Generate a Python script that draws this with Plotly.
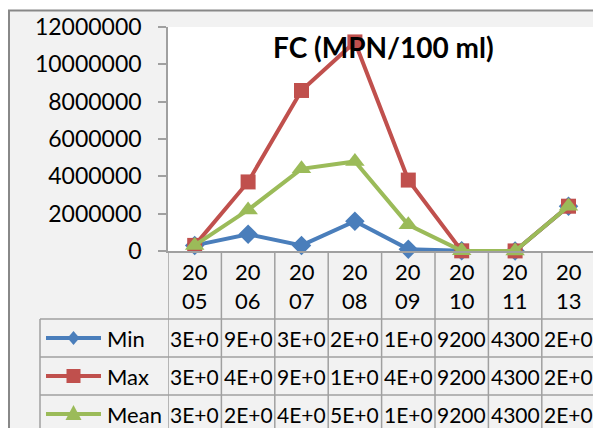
import plotly.graph_objects as go

# ---------------- data ----------------
years = ["2005", "2006", "2007", "2008", "2009", "2010", "2011", "2013"]
min_vals = [300000, 900000, 300000, 1600000, 100000, 9200, 4300, 2400000]
max_vals = [300000, 3700000, 8600000, 11200000, 3800000, 9200, 4300, 2400000]
mean_vals = [300000, 2200000, 4400000, 4800000, 1400000, 9200, 4300, 2400000]
series_names = ["Min", "Max", "Mean"]
title_text = "FC (MPN/100 ml)"
y_ticks = [0, 2000000, 4000000, 6000000, 8000000, 10000000, 12000000]

# ---------------- styling ----------------
W, H = 593, 428
FONT = "Lato"
COLORS = {"Min": "#4A7EBB", "Max": "#C0504D", "Mean": "#9BBB59"}
SYMBOLS = {"Min": "diamond", "Max": "square", "Mean": "triangle-up"}
MSIZE = {"Min": 15, "Max": 15, "Mean": 17}
GRID = "#A0A0A0"
BORDER = "#888888"

PLOT_L, PLOT_T, PLOT_B = 168, 27, 251
COL_W = 53.4


def px(x):
    return x / W


def py(y):
    return 1 - y / H


n = len(years)
xs = list(range(n))
x_hi = -0.5 + (W - PLOT_L) / COL_W

fig = go.Figure()
for name, vals in zip(series_names, [min_vals, max_vals, mean_vals]):
    fig.add_trace(go.Scatter(
        x=xs, y=vals, mode="lines+markers", name=name,
        line=dict(color=COLORS[name], width=4),
        marker=dict(symbol=SYMBOLS[name], size=MSIZE[name], color=COLORS[name],
                    line=dict(width=0)),
        cliponaxis=False,
    ))

shapes = []
annotations = []

# outer chart border + white surroundings
shapes.append(dict(type="rect", xref="paper", yref="paper", x0=0, x1=1, y0=py(10), y1=1,
                   fillcolor="white", line=dict(width=0), layer="above"))
shapes.append(dict(type="rect", xref="paper", yref="paper", x0=0, x1=px(8), y0=0, y1=1,
                   fillcolor="white", line=dict(width=0), layer="above"))
shapes.append(dict(type="line", xref="paper", yref="paper", x0=px(8), x1=1, y0=py(10.5), y1=py(10.5),
                   line=dict(color=BORDER, width=2), layer="above"))
shapes.append(dict(type="line", xref="paper", yref="paper", x0=px(9), x1=px(9), y0=py(10), y1=0,
                   line=dict(color=BORDER, width=2), layer="above"))

# table vertical lines at category boundaries
for i in range(n + 1):
    shapes.append(dict(type="line", xref="x", yref="paper", x0=i - 0.5, x1=i - 0.5,
                       y0=py(PLOT_B), y1=0, line=dict(color=GRID, width=1.5), layer="above"))
# table left border
shapes.append(dict(type="line", xref="paper", yref="paper", x0=px(40), x1=px(40),
                   y0=py(319), y1=0, line=dict(color=GRID, width=1.5), layer="above"))
# horizontal row lines
row_tops = [319, 357, 395]
for r in row_tops:
    shapes.append(dict(type="line", xref="paper", yref="paper", x0=px(40), x1=1,
                       y0=py(r), y1=py(r), line=dict(color=GRID, width=1.5), layer="above"))

# category labels
for i, yr in enumerate(years):
    annotations.append(dict(x=i, y=py(286), xref="x", yref="paper",
                            text=yr[:2] + "<br>" + yr[2:], showarrow=False,
                            font=dict(family=FONT, size=22, color="black"),
                            xanchor="center", yanchor="middle"))


def cell_text(v):
    s = str(v)
    if len(s) > 4:
        s = f"{v:.0E}"[:4]
    return s


# table rows
for k, (name, vals) in enumerate(zip(series_names, [min_vals, max_vals, mean_vals])):
    cy = row_tops[k] + 19
    shapes.append(dict(type="line", xref="paper", yref="paper", x0=px(46), x1=px(101),
                       y0=py(cy), y1=py(cy), line=dict(color=COLORS[name], width=4), layer="above"))
    mx = 73.5
    if name == "Min":
        path = (f"M {px(mx)} {py(cy - 7)} L {px(mx + 6)} {py(cy)} L {px(mx)} {py(cy + 7)} "
                f"L {px(mx - 6)} {py(cy)} Z")
        shapes.append(dict(type="path", xref="paper", yref="paper", path=path,
                           fillcolor=COLORS[name], line=dict(width=0), layer="above"))
    elif name == "Max":
        shapes.append(dict(type="rect", xref="paper", yref="paper", x0=px(mx - 7), x1=px(mx + 7),
                           y0=py(cy - 7), y1=py(cy + 7), fillcolor=COLORS[name],
                           line=dict(width=0), layer="above"))
    else:
        path = (f"M {px(mx)} {py(cy - 9)} L {px(mx + 8)} {py(cy + 6)} L {px(mx - 8)} {py(cy + 6)} Z")
        shapes.append(dict(type="path", xref="paper", yref="paper", path=path,
                           fillcolor=COLORS[name], line=dict(width=0), layer="above"))
    annotations.append(dict(x=px(105), y=py(cy), xref="paper", yref="paper", text=name,
                            showarrow=False, xanchor="left", yanchor="middle",
                            font=dict(family=FONT, size=22, color="black")))
    for i, v in enumerate(vals):
        annotations.append(dict(x=i, y=py(cy), xref="x", yref="paper", text=cell_text(v),
                                showarrow=False, xanchor="center", yanchor="middle",
                                font=dict(family=FONT, size=21, color="black")))

# title
annotations.append(dict(x=px(383), y=py(47), xref="paper", yref="paper", text="<b>" + title_text + "</b>",
                        showarrow=False, xanchor="center", yanchor="middle",
                        font=dict(family=FONT, size=28, color="black")))

fig.update_layout(
    width=W, height=H,
    margin=dict(l=0, r=0, t=0, b=0, autoexpand=False),
    paper_bgcolor="#F2F2F2",
    plot_bgcolor="white",
    showlegend=False,
    font=dict(family=FONT, size=22, color="black"),
    xaxis=dict(domain=[px(PLOT_L), 1], range=[-0.5, x_hi], showgrid=False, zeroline=False,
               showline=True, linecolor=GRID, linewidth=1.5, showticklabels=False, ticks="",
               fixedrange=True),
    yaxis=dict(domain=[py(PLOT_B), py(PLOT_T)], range=[0, 12000000], tickvals=y_ticks,
               ticktext=[str(t) for t in y_ticks], showgrid=False, zeroline=False,
               showline=True, linecolor=GRID, linewidth=1.5, ticks="outside", ticklen=8,
               tickcolor=GRID, tickwidth=1.5, ticklabelstandoff=12,
               tickfont=dict(family=FONT, size=23, color="black"), fixedrange=True),
    shapes=shapes,
    annotations=annotations,
)

fig.write_html(
    "out.html",
    config={"displayModeBar": False},
    post_script="document.body.style.margin='0';document.body.style.overflow='hidden';",
)
